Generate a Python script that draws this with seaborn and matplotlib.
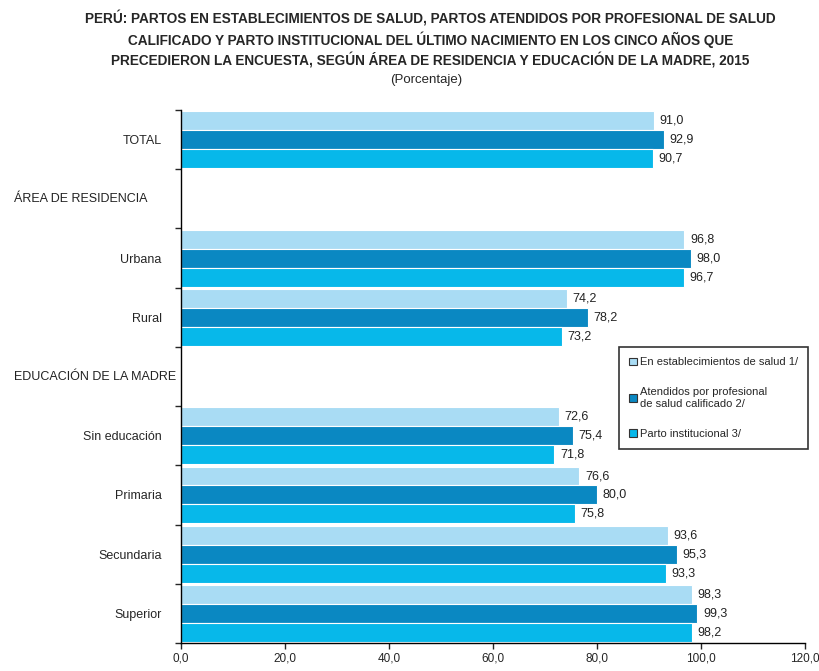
import pandas as pd
import numpy as np
import matplotlib.pyplot as plt
import seaborn as sns
from matplotlib.ticker import FixedLocator, FuncFormatter
from matplotlib.patches import Patch

# Data
categories = ['TOTAL', 'ÁREA DE RESIDENCIA', 'Urbana', 'Rural', 'EDUCACIÓN DE LA MADRE',
              'Sin educación', 'Primaria', 'Secundaria', 'Superior']
headers = ['ÁREA DE RESIDENCIA', 'EDUCACIÓN DE LA MADRE']
groups = ['TOTAL', 'Urbana', 'Rural', 'Sin educación', 'Primaria', 'Secundaria', 'Superior']
establecimientos = [91.0, 96.8, 74.2, 72.6, 76.6, 93.6, 98.3]
calificado = [92.9, 98.0, 78.2, 75.4, 80.0, 95.3, 99.3]
institucional = [90.7, 96.7, 73.2, 71.8, 75.8, 93.3, 98.2]
series = ['En establecimientos de salud 1/',
          'Atendidos por profesional\nde salud calificado 2/',
          'Parto institucional 3/']
colors = ['#a9dcf4', '#0a88c2', '#07b8ea']
title_lines = ['PERÚ: PARTOS EN ESTABLECIMIENTOS DE SALUD, PARTOS ATENDIDOS POR PROFESIONAL DE SALUD',
               'CALIFICADO Y PARTO INSTITUCIONAL DEL ÚLTIMO NACIMIENTO EN LOS CINCO AÑOS QUE',
               'PRECEDIERON LA ENCUESTA, SEGÚN ÁREA DE RESIDENCIA Y EDUCACIÓN DE LA MADRE, 2015']

rows = []
for s, vals in zip(series, [establecimientos, calificado, institucional]):
    for g, v in zip(groups, vals):
        rows.append({'grupo': g, 'serie': s, 'valor': v})
df = pd.DataFrame(rows)

sns.set_theme(style="white")
plt.rcParams['font.family'] = ['Liberation Sans Narrow', 'Liberation Sans', 'DejaVu Sans']

fig = plt.figure(figsize=(8.2, 6.71), dpi=100)
ax = fig.add_axes([0.2207, 0.0417, 0.7610, 0.7943])

sns.barplot(data=df, y='grupo', x='valor', hue='serie', order=categories,
            hue_order=series, palette=colors, saturation=1, orient='h', width=0.96,
            edgecolor='white', linewidth=0.8, ax=ax, legend=False)

# value labels
for container in ax.containers:
    labels = [f'{w:.1f}'.replace('.', ',') for w in container.datavalues]
    ax.bar_label(container, labels=labels, padding=4, fontsize=9, color='#222222')

ax.set_xlim(0, 120)
ax.set_ylim(len(categories) - 0.5, -0.5)
ax.set_xticks(np.arange(0, 121, 20))
ax.xaxis.set_major_formatter(FuncFormatter(lambda v, p: f'{v:.1f}'.replace('.', ',')))
ax.tick_params(axis='x', labelsize=8.5, length=4, direction='out', bottom=True, width=1, pad=3)

ax.set_yticks(range(len(categories)))
ax.set_yticklabels([c if c not in headers else '' for c in categories], fontsize=9)
ax.tick_params(axis='y', which='major', length=0, pad=14)
ax.yaxis.set_minor_locator(FixedLocator(np.arange(-0.5, len(categories), 1)))
ax.tick_params(axis='y', which='minor', length=4, left=True, width=1, direction='out')

for h in headers:
    ax.text(-0.267, categories.index(h), h, transform=ax.get_yaxis_transform(),
            ha='left', va='center', fontsize=9, color='#222222')

ax.set_xlabel('')
ax.set_ylabel('')
for side in ['top', 'right']:
    ax.spines[side].set_visible(False)
for side in ['left', 'bottom']:
    ax.spines[side].set_color('black')
    ax.spines[side].set_linewidth(1)

handles = [Patch(facecolor=c, edgecolor='#333333', linewidth=0.8) for c in colors]
leg = ax.legend(handles, series, loc='upper left', bbox_to_anchor=(0.693, 0.565),
                frameon=True, fancybox=False, edgecolor='#333333', fontsize=8,
                handlelength=0.7, handleheight=0.7, handletextpad=0.3,
                labelspacing=1.8, borderpad=0.9, framealpha=1)
leg.get_frame().set_linewidth(1.2)

# title, one line at a time
for i, line in enumerate(title_lines):
    fig.text(0.525, 1 - (19 + 20.5 * i) / 671, line, ha='center', va='center',
             fontsize=9.8, fontweight='bold')
fig.text(0.52, 1 - 80 / 671, '(Porcentaje)', ha='center', va='center', fontsize=9.5)

plt.savefig('out.png', dpi=100)
